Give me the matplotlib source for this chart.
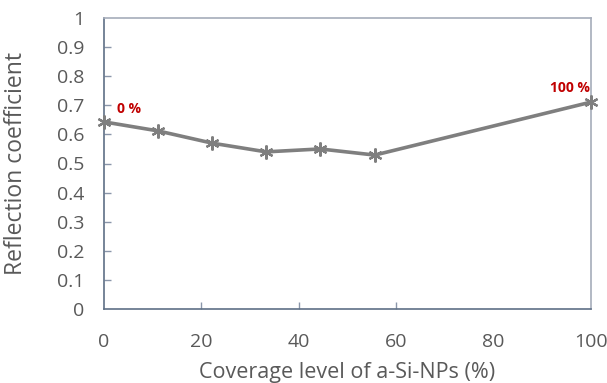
import matplotlib.pyplot as plt
import numpy as np

plt.rcParams["font.family"] = ["Open Sans", "DejaVu Sans"]

coverage = [0, 11.1, 22.2, 33.3, 44.4, 55.6, 100]
reflection = [0.643, 0.612, 0.570, 0.540, 0.550, 0.529, 0.711]
x_ticks = [0, 20, 40, 60, 80, 100]
y_ticks = [0, 0.1, 0.2, 0.3, 0.4, 0.5, 0.6, 0.7, 0.8, 0.9, 1]

text_color = "#595959"
axis_color = "#8a96aa"

fig = plt.figure(figsize=(6.07, 3.83), dpi=100)
ax = fig.add_axes([104 / 607, 1 - 309 / 383, 487 / 607, 291 / 383])

ax.plot(coverage, reflection, color="#7f7f7f", linewidth=2.6,
        marker=(6, 2, 0), markersize=10, markeredgewidth=1.6,
        markeredgecolor="#7f7f7f", clip_on=False, zorder=3)

ax.annotate("0 %", (coverage[0], reflection[0]), xytext=(9, 9),
            textcoords="offset points", color="#c00000", fontsize=10,
            fontweight="bold", ha="left", va="center")
ax.annotate("100 %", (coverage[-1], reflection[-1]), xytext=(-1, 5),
            textcoords="offset points", color="#c00000", fontsize=10,
            fontweight="bold", ha="right", va="bottom")

ax.set_xlim(0, 100)
ax.set_ylim(0, 1)
ax.set_xticks(x_ticks)
ax.set_yticks(y_ticks)
ax.set_yticklabels([f"{v:g}" for v in y_ticks])

ax.tick_params(direction="in", length=5, width=1, color=axis_color,
               labelcolor=text_color, labelsize=14)
ax.tick_params(axis="x", pad=17)
ax.tick_params(axis="y", pad=14)

# only the inner x ticks and inner y ticks are drawn
for i, t in enumerate(ax.xaxis.get_major_ticks()):
    if x_ticks[i] in (0, 80, 100):
        t.tick1line.set_visible(False)
for i, t in enumerate(ax.yaxis.get_major_ticks()):
    if y_ticks[i] in (0, 1):
        t.tick1line.set_visible(False)

for side in ["left", "bottom"]:
    ax.spines[side].set_color("#5f7086")
    ax.spines[side].set_linewidth(1.2)
for side in ["top", "right"]:
    ax.spines[side].set_color("#a6adba")
    ax.spines[side].set_linewidth(1.2)

ax.set_xlabel("Coverage level of a-Si-NPs (%)", color=text_color,
              fontsize=15.5, labelpad=8)
ax.set_ylabel("Reflection coefficient", color=text_color, fontsize=16.5,
              labelpad=21)

fig.savefig("out.png", dpi=100)
